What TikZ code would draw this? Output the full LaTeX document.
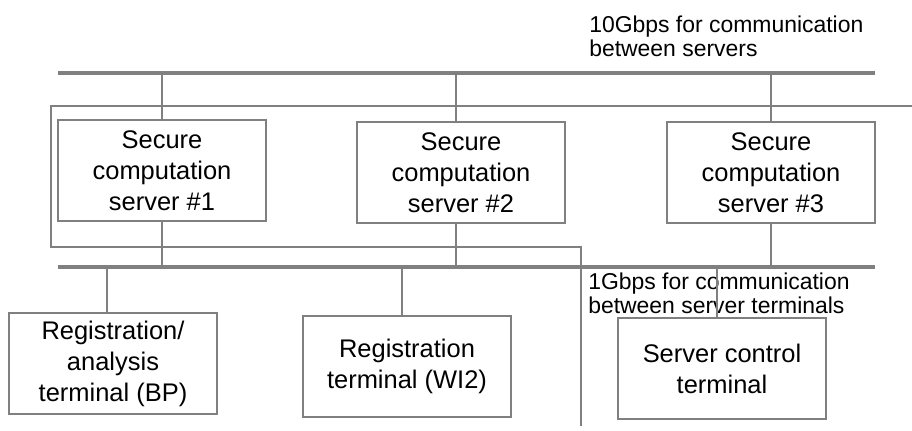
\documentclass[tikz,border=0pt]{standalone}
\usepackage{fontspec}
\setmainfont{Liberation Sans}
\tikzset{srv/.style={draw=gray,line width=1.5pt,minimum width=156pt,minimum height=75.75pt,inner sep=0pt,align=center,font=\fontsize{19.1}{23.25}\selectfont},
lbl/.style={anchor=north west,align=left,inner sep=0pt,font=\fontsize{17.2}{18}\selectfont},
bus/.style={draw=gray,line width=2.4pt},wire/.style={draw=gray,line width=1.5pt}}

\begin{document}
\begin{tikzpicture}[x=0.75pt,y=-0.75pt]
\useasboundingbox (0,0) rectangle (912,431);
% the two networks
\coordinate (ta) at (58,73);
\coordinate (tb) at (875,73);
\coordinate (ua) at (58,267);
\coordinate (ub) at (875,267);
\node[lbl] (tl) at (589,16) {10Gbps for communication\\between servers};
\node[lbl] (ul) at (588,273) {1Gbps for communication\\between server terminals};
% servers
\node[srv] (s1) at (162,170.5) {Secure\\computation\\server \#1};
\node[srv] (s2) at (461,172.5) {Secure\\computation\\server \#2};
\node[srv] (s3) at (771,172.5) {Secure\\computation\\server \#3};
% terminals
\node[srv] (t1) at (113,363.5) {Registration/\\analysis\\terminal (BP)};
\node[srv] (t2) at (407,366.5) {Registration\\terminal (WI2)};
\node[srv] (t3) at (722,368.5) {Server control\\terminal};
% loop line
\coordinate (la) at (912,106);
\coordinate (lc) at (51,247);
\coordinate (lb) at (581,426);
\draw[wire] (la) -| (lc) -| (lb);
\draw[bus] (ta) -- (tb) (ua) -- (ub);
\draw[wire] (s1.north) -- (s1.north |- ta) (s1.south) -- (s1.south |- ua)
([xshift=-3.75pt]s2.north) -- ([xshift=-3.75pt]s2.north |- ta) ([xshift=-3.75pt]s2.south) -- ([xshift=-3.75pt]s2.south |- ua)
(s3.north) -- (s3.north |- ta) (s3.south) -- (s3.south |- ua)
([xshift=-4.5pt]t1.north) -- ([xshift=-4.5pt]t1.north |- ua)
([xshift=-3.75pt]t2.north) -- ([xshift=-3.75pt]t2.north |- ua)
([xshift=-3.75pt]t3.north) -- ([xshift=-3.75pt]t3.north |- ua);
\end{tikzpicture}
\end{document}
